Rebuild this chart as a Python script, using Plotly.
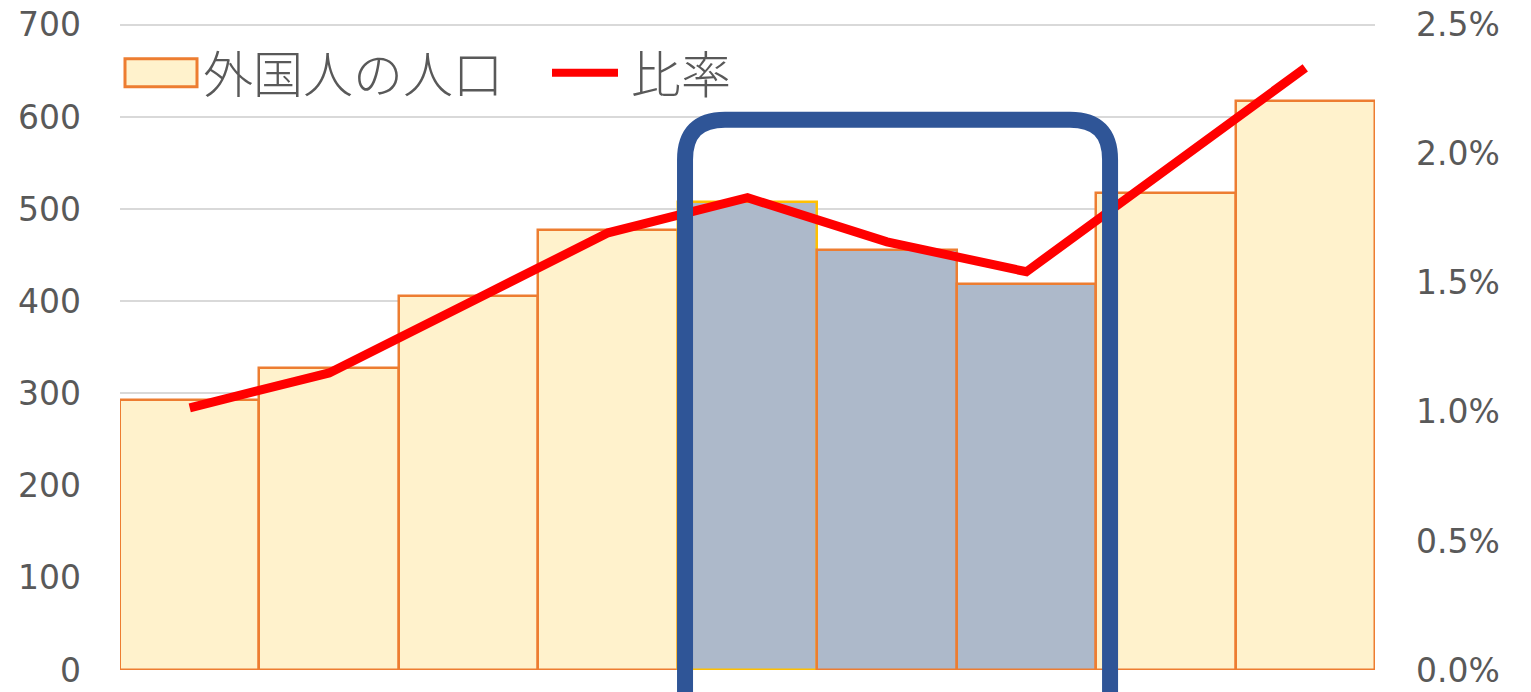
import plotly.graph_objects as go

# ---- data ----
categories = ["1", "2", "3", "4", "5", "6", "7", "8", "9"]
population = [293, 328, 406, 477, 508, 456, 419, 517, 617]      # 外国人の人口
ratio = [0.01016, 0.01151, 0.01422, 0.01694, 0.0183, 0.01659, 0.01543, 0.01934, 0.02333]  # 比率
left_ticks = [0, 100, 200, 300, 400, 500, 600, 700]
right_ticks = [0, 0.005, 0.01, 0.015, 0.02, 0.025]
highlight = [4, 5, 6]  # highlighted bars (0-based)

# ---- styles ----
CREAM = "#FFF2CC"
ORANGE = "#ED7D31"
GRAYBLUE = "#ADB9CA"
GOLD = "#FFC000"
NAVY = "#2F5597"
TXT = "#595959"

fills = [GRAYBLUE if i in highlight else CREAM for i in range(len(categories))]
edges = [GOLD if i == highlight[0] else ORANGE for i in range(len(categories))]

fig = go.Figure()
fig.add_trace(go.Bar(
    x=categories, y=population, name="外国人の人口",
    marker=dict(color=fills, line=dict(color=edges, width=2.5)),
    showlegend=False,
))
fig.add_trace(go.Scatter(
    x=categories, y=ratio, name="比率", yaxis="y2", mode="lines",
    line=dict(color="#FF0000", width=9),
    showlegend=False,
))

# page is offset by the default 8px body margin
OFF = 8
PAGE_W, PAGE_H = 1531, 692
W, H = PAGE_W - OFF, PAGE_H - OFF
YMAX = 703                             # a little headroom so the 700 gridline shows
PL, PR, PB = 120, 1375, 670            # plot area in page pixels
PX_PER_UNIT = (670 - 25) / 700
PT = PB - YMAX * PX_PER_UNIT
ML, MR, MT, MB = PL - OFF, PAGE_W - PR, PT - OFF, PAGE_H - PB
PW, PH = PR - PL, PB - PT

def px(xp):
    return (xp - PL) / PW

def py(yp):
    return (PB - yp) / PH

# rounded highlight frame
n = len(categories)
x0 = (3.552 + 0.5) / n
x1 = (6.600 + 0.5) / n
yt = 597 / YMAX
rx, ry = 40 / PW, 40 / PH
yb = -0.3
path = (f"M {x0},{yb} L {x0},{yt-ry} Q {x0},{yt} {x0+rx},{yt} "
        f"L {x1-rx},{yt} Q {x1},{yt} {x1},{yt-ry} L {x1},{yb}")
shapes = [dict(type="path", xref="paper", yref="paper", path=path,
               line=dict(color=NAVY, width=16), layer="above")]

# manual legend
shapes.append(dict(type="rect", xref="paper", yref="paper",
                   x0=px(125), x1=px(197), y0=py(87), y1=py(59),
                   fillcolor=CREAM, line=dict(color=ORANGE, width=3), layer="above"))
shapes.append(dict(type="line", xref="paper", yref="paper",
                   x0=px(552), x1=px(618), y0=py(73), y1=py(73),
                   line=dict(color="#FF0000", width=8), layer="above"))

leg_font = dict(family="Noto Sans CJK JP", size=50, color=TXT, weight=300)
annotations = [
    dict(text="外国人の人口", xref="paper", yref="paper", x=px(201), y=py(71),
         xanchor="left", yanchor="middle", showarrow=False, font=leg_font),
    dict(text="比率", xref="paper", yref="paper", x=px(629), y=py(71),
         xanchor="left", yanchor="middle", showarrow=False, font=leg_font),
]

tick_font = dict(family="DejaVu Sans", size=33, color=TXT)

fig.update_layout(
    width=W, height=H,
    margin=dict(l=ML, r=MR, t=MT, b=MB, autoexpand=False),
    paper_bgcolor="white", plot_bgcolor="white",
    bargap=0,
    shapes=shapes, annotations=annotations,
    xaxis=dict(showticklabels=False, showgrid=False, zeroline=False,
               showline=False, ticks="", range=[-0.5, n - 0.5], automargin=False),
    yaxis=dict(range=[0, YMAX], tickvals=left_ticks, showgrid=True,
               gridcolor="#D9D9D9", gridwidth=2, zeroline=False, showline=False,
               tickfont=tick_font, ticks="", ticklabelstandoff=38, automargin=False,
               ticklabeloverflow="allow"),
    yaxis2=dict(range=[0, 0.025 * YMAX / 700], tickvals=right_ticks, tickformat=".1%",
                overlaying="y", side="right", showgrid=False, zeroline=False,
                showline=False, ticks="", tickfont=tick_font,
                ticklabelstandoff=40, automargin=False, ticklabeloverflow="allow"),
)

fig.write_html("out.html")
